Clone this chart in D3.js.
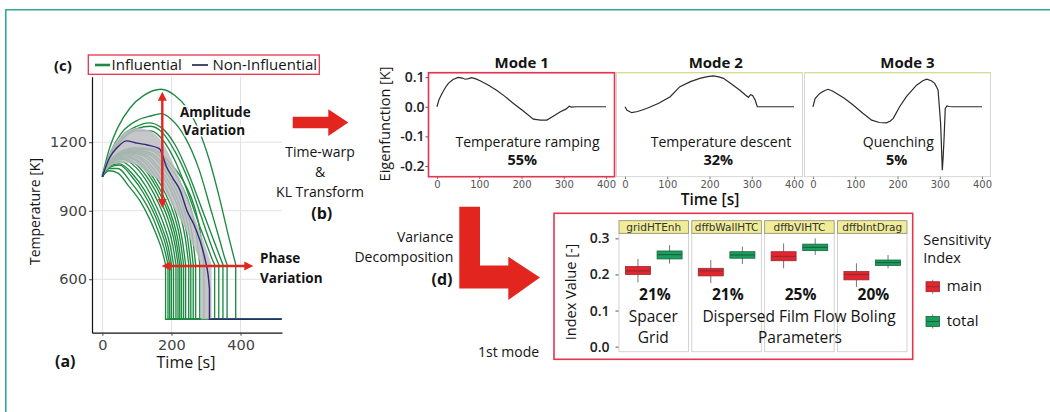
<!DOCTYPE html>
<html>
<head>
<meta charset="utf-8">
<script src="https://cdn.jsdelivr.net/npm/d3@7"></script>
<style>
  html, body { margin: 0; padding: 0; background: #fff; }
  svg { display: block; }
</style>
</head>
<body>
<svg id="fig" width="1050" height="412"></svg>
<script>
// ---------------- data ----------------
// (a) cladding temperature histories [time s, temperature K] up to the quench front
const tempTicksX = [0, 200, 400];
const tempTicksY = [600, 900, 1200];
const quenchTemp = 425;
const runEnd = 518;

const influentialRuns = [
  [[0,1055],[20,1170],[45,1265],[80,1350],[120,1405],[170,1432],[210,1405],[245,1350],[280,1250],[310,1120],[340,950],[365,790],[380,700],[386,665]],
  [[0,1055],[25,1160],[55,1240],[100,1295],[140,1315],[170,1325],[200,1300],[240,1220],[280,1080],[315,900],[340,770],[355,690],[361,665]],
  [[0,1055],[25,1150],[60,1230],[100,1270],[135,1285],[170,1265],[210,1190],[250,1060],[290,900],[320,780],[340,700],[349,665]],
  [[0,1055],[25,1145],[60,1220],[100,1260],[140,1270],[175,1240],[210,1160],[250,1030],[285,880],[310,770],[330,690],[337,665]],
  [[0,1055],[25,1140],[60,1215],[100,1250],[140,1250],[175,1210],[210,1120],[245,990],[280,840],[305,740],[320,680],[325,665]],
  [[0,1050],[20,1075],[45,1065],[75,1010],[108,945],[135,870],[155,800],[172,730],[183,665]],
  [[0,1050],[20,1085],[45,1085],[80,1030],[112,965],[140,890],[162,810],[179,735],[190,665]],
  [[0,1050],[20,1090],[50,1100],[85,1050],[118,980],[146,900],[168,820],[185,740],[195,665]],
  [[0,1050],[20,1095],[50,1105],[88,1060],[122,990],[150,910],[173,825],[190,745],[200,665]],
  [[0,1050],[25,1105],[55,1115],[92,1075],[127,1005],[156,920],[180,830],[196,750],[206,665]],
  [[0,1050],[25,1105],[60,1125],[97,1090],[132,1020],[162,935],[187,840],[203,755],[213,665]],
  [[0,1050],[25,1110],[60,1130],[100,1100],[137,1030],[168,945],[193,850],[209,760],[219,665]],
  [[0,1050],[25,1110],[65,1135],[105,1110],[142,1040],[173,955],[198,860],[214,765],[224,665]],
  [[0,1050],[25,1115],[65,1140],[108,1115],[147,1045],[178,960],[203,865],[219,770],[229,665]],
  [[0,1050],[30,1120],[70,1145],[112,1125],[152,1055],[184,970],[209,875],[225,775],[235,665]],
  [[0,1050],[30,1120],[70,1150],[116,1130],[157,1065],[190,980],[215,880],[231,775],[241,665]],
  [[0,1050],[30,1125],[75,1155],[120,1140],[163,1075],[198,990],[224,890],[240,780],[250,665]],
  [[0,1050],[30,1125],[75,1155],[125,1145],[168,1080],[204,995],[230,895],[246,785],[256,665]],
  [[0,1050],[30,1130],[80,1160],[130,1150],[175,1090],[211,1000],[237,900],[253,790],[263,665]],
  [[0,1050],[35,1130],[85,1165],[135,1155],[181,1095],[218,1005],[244,905],[260,795],[270,665]],
  [[0,1050],[35,1135],[90,1170],[140,1165],[188,1105],[228,1015],[256,910],[272,800],[282,665]],
  [[0,1050],[35,1140],[90,1175],[145,1170],[195,1110],[238,1020],[267,915],[284,800],[294,665]]
];
const meanRun = [[0,1050],[20,1130],[45,1180],[70,1206],[100,1196],[130,1188],[165,1172],[185,1095],[205,1040],[225,990],[245,900],[265,840],[282,772],[297,690],[306,620],[310,560]];
const bandHigh = [[0,1062],[20,1150],[45,1215],[75,1255],[100,1262],[130,1255],[160,1225],[185,1170],[210,1090],[235,1000],[260,900],[285,800],[305,715],[316,665]];
const bandLow  = [[0,1050],[20,1090],[45,1110],[75,1110],[105,1095],[135,1060],[165,1030],[190,960],[215,890],[240,820],[262,750],[278,695],[285,665]];

// (b) Karhunen-Loeve eigenfunctions [warped time s, value K]
const modeTitles = ["Mode 1", "Mode 2", "Mode 3"];
const modeNames = ["Temperature ramping", "Temperature descent", "Quenching"];
const modeShares = [55, 32, 5];
const modeTicksX = [0, 100, 200, 300, 400];
const modeTicksY = [-0.2, -0.1, 0.0, 0.1];
const mode1 = [[0,0],[5,0.025],[12,0.045],[20,0.065],[27,0.079],[38,0.092],[50,0.099],[60,0.097],[67,0.093],[75,0.095],[82,0.098],[92,0.094],[102,0.088],[120,0.074],[141,0.056],[160,0.036],[181,0.011],[205,-0.015],[228,-0.042],[245,-0.045],[260,-0.045],[275,-0.032],[292,-0.017],[305,-0.008],[313,0.002],[318,-0.001],[330,0],[400,0]];
const mode2 = [[0,0],[5,-0.012],[16,-0.02],[30,-0.016],[51,-0.006],[80,0.012],[107,0.034],[130,0.068],[155,0.085],[177,0.096],[195,0.102],[209,0.104],[222,0.101],[233,0.096],[252,0.077],[272,0.056],[285,0.04],[292,0.032],[297,0.041],[302,0.038],[308,0.023],[313,0],[330,0],[400,0]];
const mode3 = [[0,0],[5,0.028],[16,0.045],[28,0.055],[36,0.059],[46,0.053],[56,0.045],[75,0.028],[95,0.006],[118,-0.022],[139,-0.045],[157,-0.053],[174,-0.054],[183,-0.048],[190,-0.039],[205,0],[221,0.034],[245,0.073],[260,0.088],[269,0.093],[280,0.088],[288,0.079],[293,0.065],[296,0.056],[299,0],[302,-0.056],[306,-0.214],[308,-0.17],[310,-0.112],[313,-0.006],[317,0.003],[322,0.001],[330,0],[400,0]];

// (d) Sobol indices of the 1st mode: [lower whisker, q1, median, q3, upper whisker]
const parameters = ["gridHTEnh", "dffbWallHTC", "dffbVIHTC", "dffbIntDrag"];
const indexTypes = ["main", "total"];
const mainIndex  = [[0.178,0.200,0.210,0.222,0.243],[0.176,0.196,0.210,0.217,0.240],[0.217,0.238,0.250,0.263,0.286],[0.165,0.185,0.200,0.208,0.231]];
const totalIndex = [[0.230,0.243,0.255,0.265,0.281],[0.229,0.245,0.254,0.263,0.277],[0.254,0.266,0.275,0.284,0.300],[0.217,0.225,0.233,0.240,0.254]];
const indexTicks = [0.0, 0.1, 0.2, 0.3];

// ---------------- drawing ----------------
const svg = d3.select("#fig");
const SANS = "'Open Sans', sans-serif";
const TICKFONT = "'DejaVu Sans', sans-serif";
const ARROW = "#e3251f";
const FRAME = "#e5344e";
const GREEN = "#1d8a41";
const NAVY = "#2e2b78";

function txt(x, y, s, o = {}) {
  const t = svg.append("text").attr("x", x).attr("y", y).text(s)
    .attr("font-family", o.family || SANS)
    .attr("font-size", o.size || 14)
    .attr("font-weight", o.weight || 400)
    .attr("text-anchor", o.anchor || "start")
    .attr("fill", o.fill || "#141414");
  if (o.halo) t.attr("stroke", "#fff").attr("stroke-width", 3).attr("paint-order", "stroke").attr("stroke-linejoin", "round");
  return t;
}
function vtxt(x, y, s, o = {}) {
  return txt(0, 0, s, Object.assign({ anchor: "middle" }, o)).attr("transform", `translate(${x},${y}) rotate(-90)`);
}
function doubleArrow(x1, y1, x2, y2, head, hw) {
  const a = Math.atan2(y2 - y1, x2 - x1), c = Math.cos(a), s = Math.sin(a);
  svg.append("line")
    .attr("x1", x1 + c * head * 0.7).attr("y1", y1 + s * head * 0.7)
    .attr("x2", x2 - c * head * 0.7).attr("y2", y2 - s * head * 0.7)
    .attr("stroke", ARROW).attr("stroke-width", 2.4);
  const tri = (tx, ty, dir) => {
    const bx = tx - dir * c * head, by = ty - dir * s * head;
    return `M${tx},${ty}L${bx - s * hw},${by + c * hw}L${bx + s * hw},${by - c * hw}Z`;
  };
  svg.append("path").attr("d", tri(x2, y2, 1) + tri(x1, y1, -1)).attr("fill", ARROW);
}

// outer frame
svg.append("path").attr("d", "M5.75,412V9.75H1050")
  .attr("fill", "none").attr("stroke", "#36a696").attr("stroke-width", 1.6);

// ===== (a) temperature histories =====
const xA = d3.scaleLinear().domain([-30, 520]).range([92, 282]);
const yA = d3.scaleLinear().domain([366, 1487]).range([332.7, 76.7]);
const gA = svg.append("g");

gA.selectAll("line.gx").data(tempTicksX).join("line")
  .attr("x1", d => xA(d)).attr("x2", d => xA(d))
  .attr("y1", yA.range()[1]).attr("y2", yA.range()[0])
  .attr("stroke", "#e1e1e1").attr("stroke-width", 1);
gA.selectAll("line.gy").data(tempTicksY).join("line")
  .attr("y1", d => yA(d)).attr("y2", d => yA(d))
  .attr("x1", xA.range()[0]).attr("x2", xA.range()[1])
  .attr("stroke", "#e1e1e1").attr("stroke-width", 1);

const lineA = d3.line().x(d => xA(d[0])).y(d => yA(d[1])).curve(d3.curveMonotoneX);
const tailA = d3.line().x(d => xA(d[0])).y(d => yA(d[1]));
function runPath(pts, end) {
  const last = pts[pts.length - 1];
  return lineA(pts) + tailA([[last[0], quenchTemp], [end, quenchTemp]]).replace(/^M/, "L");
}

gA.selectAll("path.run").data(influentialRuns).join("path")
  .attr("class", "run")
  .attr("d", d => runPath(d, runEnd))
  .attr("fill", "none").attr("stroke", GREEN).attr("stroke-width", 1.35);

{
  const hiEnd = bandHigh[bandHigh.length - 1][0], loEnd = bandLow[bandLow.length - 1][0];
  const d = lineA(bandHigh)
    + tailA([[hiEnd, quenchTemp], [loEnd, quenchTemp]]).replace(/^M/, "L")
    + lineA(bandLow.slice().reverse()).replace(/^M/, "L") + "Z";
  gA.append("path").attr("d", d).attr("fill", "#bdbdc2").attr("fill-opacity", 0.85);
}
gA.append("path").attr("d", runPath(meanRun, runEnd))
  .attr("fill", "none").attr("stroke", NAVY).attr("stroke-width", 1.4);

const axAy = gA.append("g").attr("transform", `translate(${xA.range()[0]},0)`)
  .call(d3.axisLeft(yA).tickValues(tempTicksY).tickSizeInner(3).tickSizeOuter(0).tickPadding(2).tickFormat(d3.format("d")));
const axAx = gA.append("g").attr("transform", `translate(0,${yA.range()[0]})`)
  .call(d3.axisBottom(xA).tickValues(tempTicksX).tickSizeInner(3).tickSizeOuter(0).tickPadding(4).tickFormat(d3.format("d")));
[axAy, axAx].forEach(ax => {
  ax.select(".domain").attr("stroke", "#111").attr("stroke-width", 1.2);
  ax.selectAll(".tick line").attr("stroke", "#444");
  ax.selectAll(".tick text").attr("font-family", TICKFONT).attr("font-size", 14.5)
    .attr("fill", "#444");
});

vtxt(40, 211.5, "Temperature [K]", { size: 14 });
txt(186, 368, "Time [s]", { size: 16, anchor: "middle" });
txt(55, 367, "(a)", { size: 16, weight: 700 });

// legend
svg.append("rect").attr("x", 88.3).attr("y", 55).attr("width", 231).attr("height", 19.3)
  .attr("fill", "#fff").attr("stroke", FRAME).attr("stroke-width", 1.3);
svg.append("line").attr("x1", 95).attr("x2", 110).attr("y1", 65).attr("y2", 65)
  .attr("stroke", GREEN).attr("stroke-width", 2.6);
txt(111.5, 70, "Influential", { size: 15 });
svg.append("line").attr("x1", 192).attr("x2", 208).attr("y1", 65).attr("y2", 65)
  .attr("stroke", "#4a4a6c").attr("stroke-width", 2);
txt(212.5, 70, "Non-Influential", { size: 15 });
txt(54, 71, "(c)", { size: 15, weight: 700 });

// variation annotations
doubleArrow(162.3, 91.7, 162.3, 208, 9, 4.5);
doubleArrow(161.7, 266, 253.3, 266, 9, 4.5);
txt(180, 116.7, "Amplitude", { size: 13.5, weight: 700, halo: true });
txt(182.5, 135, "Variation", { size: 13.5, weight: 700, halo: true });
txt(260, 263.3, "Phase", { size: 13.5, weight: 700 });
txt(260, 283.3, "Variation", { size: 13.5, weight: 700 });

// ===== (b) transform arrow =====
svg.append("path")
  .attr("d", "M292.7,116.7H328.3V109.3L348.3,122.5L328.3,136V128.3H292.7Z")
  .attr("fill", ARROW);
txt(320, 156.7, "Time-warp", { anchor: "middle" });
txt(320, 176.7, "&", { anchor: "middle" });
txt(320, 196.7, "KL Transform", { anchor: "middle" });
txt(321.7, 218.5, "(b)", { size: 16, weight: 700, anchor: "middle" });

// ===== (b) eigenfunction panels =====
const modePanel = { left: 428.5, step: 188, width: 186, top: 72.7, height: 104 };
const xM = d3.scaleLinear().domain([-20, 420]).range([0, modePanel.width]);
const yM = d3.scaleLinear().domain([-0.236, 0.115]).range([modePanel.height, 0]);
const lineM = d3.line().x(d => xM(d[0])).y(d => yM(d[1]));
const modeSeries = [mode1, mode2, mode3];
const modeTitleX = [521.7, 715.8, 907.5];
const modeNameX = [527.5, 721, 898.3];
const modeShareX = [522.3, 718.3, 896.7];

modeSeries.forEach((series, i) => {
  const left = modePanel.left + modePanel.step * i;
  const g = svg.append("g").attr("transform", `translate(${left},${modePanel.top})`);
  g.append("rect").attr("width", modePanel.width).attr("height", modePanel.height)
    .attr("fill", "#fff").attr("stroke", "#cdcdcd").attr("stroke-width", 0.8);
  g.append("line").attr("x1", 0).attr("x2", modePanel.width).attr("y1", 0).attr("y2", 0)
    .attr("stroke", "#d8dc90").attr("stroke-width", 1.2);
  g.append("path").attr("d", lineM(series)).attr("fill", "none")
    .attr("stroke", "#2b2b2b").attr("stroke-width", 1.2);

  const ax = g.append("g").attr("transform", `translate(0,${modePanel.height})`)
    .call(d3.axisBottom(xM).tickValues(modeTicksX).tickSizeInner(2.5).tickSizeOuter(0).tickPadding(1.5));
  ax.select(".domain").remove();
  ax.selectAll(".tick line").attr("stroke", "#777");
  ax.selectAll(".tick text").attr("font-family", TICKFONT).attr("font-size", 10)
    .attr("fill", "#555");

  if (i === 0) {
    const ay = g.append("g")
      .call(d3.axisLeft(yM).tickValues(modeTicksY).tickSizeInner(3).tickSizeOuter(0).tickPadding(1)
        .tickFormat(v => d3.format(".1f")(v).replace("\u2212", "-")));
    ay.select(".domain").remove();
    ay.selectAll(".tick line").attr("stroke", "#555");
    ay.selectAll(".tick text").attr("font-family", SANS).attr("font-size", 14)
      .attr("font-weight", 600).attr("fill", "#222");
    g.append("rect").attr("width", modePanel.width).attr("height", modePanel.height)
      .attr("fill", "none").attr("stroke", FRAME).attr("stroke-width", 1.6);
  }

  txt(modeTitleX[i], 68.3, modeTitles[i], { size: 15, weight: 700, anchor: "middle" });
  txt(modeNameX[i], 146.7, modeNames[i], { size: 14, anchor: "middle" });
  txt(modeShareX[i], 165, modeShares[i] + "%", { size: 14.5, weight: 700, anchor: "middle" });
});
vtxt(390, 124, "Eigenfunction [K]", { size: 14.5 });
txt(710, 205, "Time [s]", { size: 15.5, weight: 600, anchor: "middle" });

// ===== (d) variance decomposition =====
txt(453.3, 241.7, "Variance", { anchor: "end" });
txt(453.3, 261.7, "Decomposition", { anchor: "end" });
txt(452.5, 285, "(d)", { size: 16, weight: 700, anchor: "end" });
svg.append("path")
  .attr("d", "M459.3,206.7H480V265.5H508.3V256.7L540,277.5L508.3,300V288.5H459.3Z")
  .attr("fill", ARROW);
txt(478, 356.7, "1st mode");

svg.append("rect").attr("x", 554).attr("y", 213.3).attr("width", 358.7).attr("height", 146)
  .attr("fill", "none").attr("stroke", FRAME).attr("stroke-width", 1.6);

const facet = d3.scaleBand().domain(parameters).range([619, 907]).paddingInner(0.045).paddingOuter(0);
const inner = d3.scalePoint().domain(indexTypes).range([0, facet.bandwidth()]).padding(0.6);
const yD = d3.scaleLinear().domain([-0.014, 0.314]).range([351.7, 233.3]);
const boxFill = { main: "#e5252a", total: "#1a9e5c" };
const boxEdge = { main: "#8f2b3a", total: "#17643e" };
const boxW = 25;

parameters.forEach((p, i) => {
  const x0 = facet(p), w = facet.bandwidth();
  const g = svg.append("g").attr("transform", `translate(${x0},0)`);
  g.append("rect").attr("x", 0).attr("y", 233.3).attr("width", w).attr("height", 118.4)
    .attr("fill", "#fff").attr("stroke", "#cfcfcf").attr("stroke-width", 0.9);
  g.append("rect").attr("x", 0).attr("y", 220.7).attr("width", w).attr("height", 12.6)
    .attr("fill", "#f1ec98").attr("stroke", "#8c8c70").attr("stroke-width", 0.8);
  g.append("text").attr("x", w / 2).attr("y", 230.6).text(p)
    .attr("text-anchor", "middle").attr("font-family", TICKFONT).attr("font-size", 10.5)
    .attr("fill", "#333");

  const stats = [
    { type: "main", s: mainIndex[i] },
    { type: "total", s: totalIndex[i] }
  ];
  const b = g.selectAll("g.box").data(stats).join("g").attr("class", "box")
    .attr("transform", d => `translate(${inner(d.type)},0)`);
  b.append("line").attr("x1", 0).attr("x2", 0)
    .attr("y1", d => yD(d.s[0])).attr("y2", d => yD(d.s[4]))
    .attr("stroke", "#666").attr("stroke-width", 0.9);
  b.append("rect").attr("x", -boxW / 2).attr("width", boxW)
    .attr("y", d => yD(d.s[3])).attr("height", d => yD(d.s[1]) - yD(d.s[3]))
    .attr("fill", d => boxFill[d.type]).attr("stroke", d => boxEdge[d.type]).attr("stroke-width", 0.8);
  b.append("line").attr("x1", -boxW / 2).attr("x2", boxW / 2)
    .attr("y1", d => yD(d.s[2])).attr("y2", d => yD(d.s[2]))
    .attr("stroke", d => boxEdge[d.type]).attr("stroke-width", 1.2);

  txt(x0 + w / 2 + 1.2, 300, Math.round(mainIndex[i][2] * 100) + "%", { size: 15.5, weight: 700, anchor: "middle" });
});

const ayD = svg.append("g").attr("transform", "translate(618.5,0)")
  .call(d3.axisLeft(yD).tickValues(indexTicks).tickSizeInner(3).tickSizeOuter(0).tickPadding(6).tickFormat(d3.format(".1f")));
ayD.select(".domain").remove();
ayD.selectAll(".tick line").attr("stroke", "#555");
ayD.selectAll(".tick text").attr("font-family", SANS).attr("font-size", 14)
  .attr("font-weight", 600).attr("fill", "#222");
vtxt(576, 292, "Index Value [-]", { size: 14.5 });

txt(653.3, 321.7, "Spacer", { size: 15.5, anchor: "middle" });
txt(653.3, 343.3, "Grid", { size: 15.5, anchor: "middle" });
txt(799, 321.7, "Dispersed Film Flow Boling", { size: 15.5, anchor: "middle" });
txt(800, 343.3, "Parameters", { size: 15.5, anchor: "middle" });

// legend
txt(923.3, 244.5, "Sensitivity", { size: 14.5 });
txt(923.3, 262.5, "Index", { size: 14.5 });
const keyY = { main: 281.7, total: 316.5 };
indexTypes.forEach(t => {
  svg.append("line").attr("x1", 932.7).attr("x2", 932.7).attr("y1", keyY[t] - 2).attr("y2", keyY[t] + 12)
    .attr("stroke", "#777").attr("stroke-width", 0.9);
  svg.append("rect").attr("x", 926).attr("y", keyY[t]).attr("width", 13.5).attr("height", 10)
    .attr("fill", boxFill[t]).attr("stroke", boxEdge[t]).attr("stroke-width", 0.8);
  svg.append("line").attr("x1", 926).attr("x2", 939.5).attr("y1", keyY[t] + 5).attr("y2", keyY[t] + 5)
    .attr("stroke", boxEdge[t]).attr("stroke-width", 1);
  txt(946.7, keyY[t] + 9, t, { size: 15 });
});
</script>
</body>
</html>
